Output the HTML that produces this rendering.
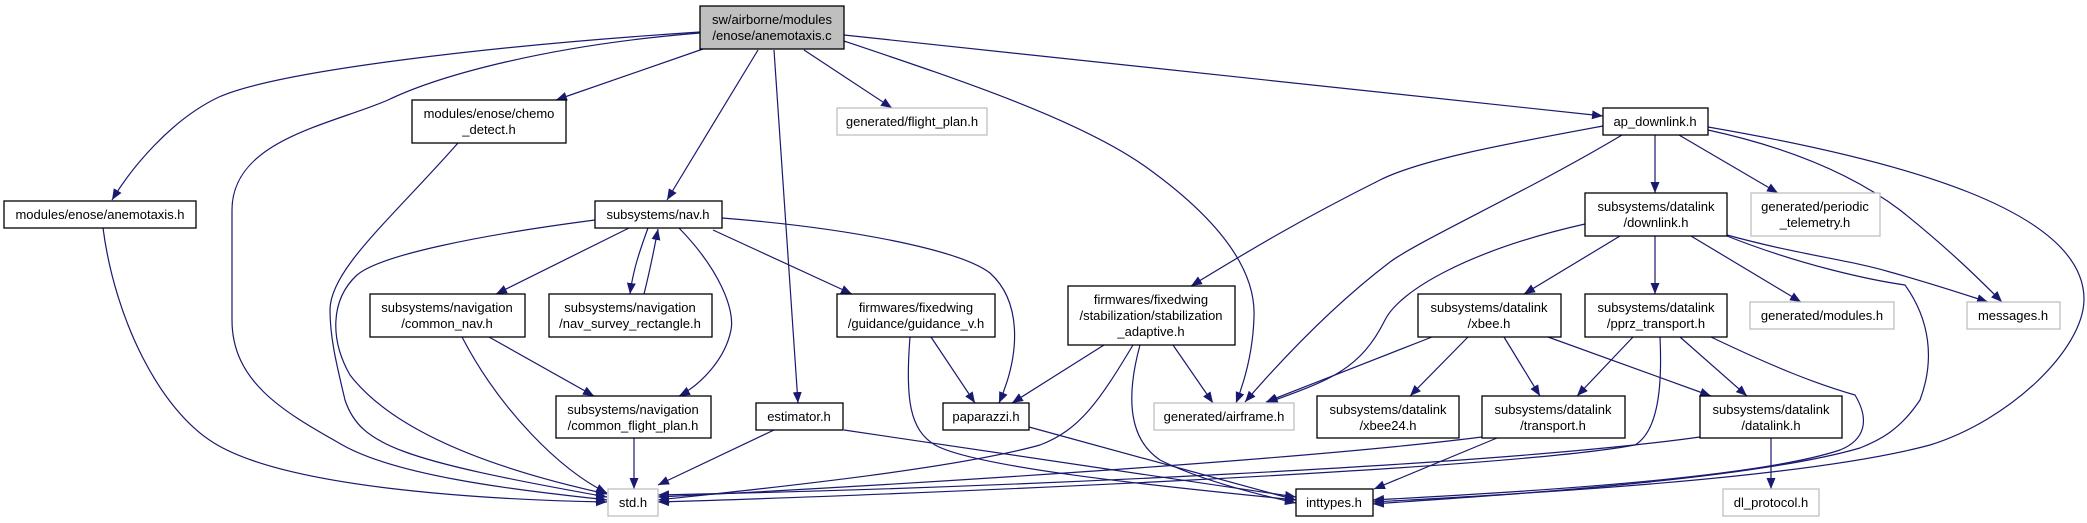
<!DOCTYPE html>
<html><head><meta charset="utf-8"><style>
html,body{margin:0;padding:0;background:#fff;}
svg{display:block;}
text{font-family:"Liberation Sans",sans-serif;font-size:13px;fill:#000;}
</style></head><body>
<svg width="2087" height="523" viewBox="0 0 2087 523" xmlns="http://www.w3.org/2000/svg">
<defs>
<marker id="a" markerWidth="12" markerHeight="9" refX="11" refY="4.5" orient="auto" markerUnits="userSpaceOnUse">
<path d="M0,0 L11,4.5 L0,9 z" fill="#191970"/>
</marker>
</defs>
<g fill="none" stroke="#191970" stroke-width="1.2" marker-end="url(#a)">
<path d="M700,32 C500,45 280,70 219,97 C170,120 130,170 112,200"/>
<path d="M700,33 C550,45 440,75 388,100 C330,125 232,140 232,210 L232,320 C232,380 280,410 339,443 C400,480 550,493 607,500"/>
<path d="M703,49 L556,100"/>
<path d="M758,50 L667,200"/>
<path d="M774,50 L798,403"/>
<path d="M804,50 L892,108"/>
<path d="M844,41 C960,80 1080,120 1146,167 C1220,220 1256,270 1254,317 C1253,350 1245,380 1236,403"/>
<path d="M844,35 L1603,116"/>
<path d="M458,143 C390,220 330,270 330,310 C330,340 338,370 345,400 C360,445 400,460 607,497"/>
<path d="M103,228 C115,320 160,410 214,443 C290,490 500,500 607,502"/>
<path d="M595,220 C480,235 380,255 357,275 C330,300 330,340 350,375 C400,440 520,475 607,494"/>
<path d="M629,228 L496,294"/>
<path d="M648,228 C640,250 633,270 630,294"/>
<path d="M644,294 C650,270 654,250 658,229"/>
<path d="M679,228 C720,270 735,310 731,330 C725,360 700,385 679,396"/>
<path d="M713,230 L852,294"/>
<path d="M722,218 C850,228 960,250 990,273 C1020,300 1022,350 999,403"/>
<path d="M462,337 C500,410 560,470 607,493"/>
<path d="M489,337 L594,396"/>
<path d="M634,438 L634,489"/>
<path d="M774,430 L658,485"/>
<path d="M844,430 L1296,497"/>
<path d="M931,337 L975,403"/>
<path d="M910,337 C905,400 910,430 935,445 C980,470 1200,490 1296,500"/>
<path d="M1104,345 L1012,403"/>
<path d="M1133,345 C1100,400 1080,430 1040,445 C950,470 750,490 658,500"/>
<path d="M1140,345 C1125,400 1130,440 1160,460 C1200,480 1260,495 1296,503"/>
<path d="M1173,345 L1213,403"/>
<path d="M1029,427 L1296,500"/>
<path d="M1603,126 C1500,145 1420,160 1380,180 C1300,220 1250,250 1191,286"/>
<path d="M1622,135 C1530,190 1420,240 1390,262 C1340,300 1290,350 1245,402"/>
<path d="M1655,135 L1655,193"/>
<path d="M1679,135 L1778,193"/>
<path d="M1708,130 C1800,150 1860,180 1900,210 C1950,250 1980,280 2002,302"/>
<path d="M1708,127 C1900,160 2085,210 2084,300 C2083,350 2010,420 1930,445 C1800,480 1500,495 1373,502"/>
<path d="M1585,224 C1470,250 1400,290 1385,320 C1360,370 1330,380 1267,403"/>
<path d="M1620,236 L1524,294"/>
<path d="M1655,236 L1655,294"/>
<path d="M1691,236 L1801,302"/>
<path d="M1727,235 C1800,255 1850,260 1890,272 C1930,283 1960,293 1988,302"/>
<path d="M1727,236 C1800,265 1870,280 1905,285 C1930,320 1935,360 1920,400 C1900,430 1880,440 1860,448 C1750,480 1500,495 1373,504"/>
<path d="M1432,337 L1266,402"/>
<path d="M1468,337 L1410,396"/>
<path d="M1504,337 L1540,396"/>
<path d="M1548,337 L1711,396"/>
<path d="M1633,337 L1577,396"/>
<path d="M1660,337 C1662,380 1660,430 1635,445 C1500,470 900,495 658,502"/>
<path d="M1680,337 L1747,396"/>
<path d="M1711,337 C1780,370 1820,385 1855,395 C1870,420 1865,440 1840,450 C1750,480 1500,493 1373,500"/>
<path d="M1482,437 C1300,460 900,485 658,497"/>
<path d="M1497,438 L1374,489"/>
<path d="M1700,437 C1500,465 1000,488 658,495"/>
<path d="M1771,438 L1771,489"/>
</g>
<g stroke-width="1.3">
<rect x="700" y="6" width="144" height="43" fill="#bfbfbf" stroke="#000"/>
<rect x="412" y="100" width="154" height="43" fill="#fff" stroke="#000"/>
<rect x="4" y="201" width="192" height="27" fill="#fff" stroke="#000"/>
<rect x="595" y="201" width="127" height="27" fill="#fff" stroke="#000"/>
<rect x="370" y="294" width="155" height="43" fill="#fff" stroke="#000"/>
<rect x="549" y="294" width="163" height="43" fill="#fff" stroke="#000"/>
<rect x="556" y="396" width="155" height="42" fill="#fff" stroke="#000"/>
<rect x="608" y="489" width="50" height="27" fill="#fff" stroke="#bfbfbf"/>
<rect x="837" y="108" width="150" height="27" fill="#fff" stroke="#bfbfbf"/>
<rect x="837" y="294" width="158" height="43" fill="#fff" stroke="#000"/>
<rect x="1068" y="286" width="167" height="59" fill="#fff" stroke="#000"/>
<rect x="756" y="403" width="87" height="27" fill="#fff" stroke="#000"/>
<rect x="943" y="403" width="86" height="27" fill="#fff" stroke="#000"/>
<rect x="1154" y="403" width="140" height="27" fill="#fff" stroke="#bfbfbf"/>
<rect x="1296" y="489" width="77" height="27" fill="#fff" stroke="#000"/>
<rect x="1317" y="396" width="142" height="42" fill="#fff" stroke="#000"/>
<rect x="1603" y="108" width="105" height="27" fill="#fff" stroke="#000"/>
<rect x="1585" y="193" width="142" height="43" fill="#fff" stroke="#000"/>
<rect x="1751" y="193" width="129" height="43" fill="#fff" stroke="#bfbfbf"/>
<rect x="1418" y="294" width="143" height="43" fill="#fff" stroke="#000"/>
<rect x="1585" y="294" width="142" height="43" fill="#fff" stroke="#000"/>
<rect x="1750" y="302" width="144" height="27" fill="#fff" stroke="#bfbfbf"/>
<rect x="1967" y="302" width="93" height="27" fill="#fff" stroke="#bfbfbf"/>
<rect x="1482" y="396" width="143" height="42" fill="#fff" stroke="#000"/>
<rect x="1700" y="396" width="142" height="42" fill="#fff" stroke="#000"/>
<rect x="1723" y="489" width="96" height="27" fill="#fff" stroke="#bfbfbf"/>
</g>
<g text-anchor="middle">
<text x="772" y="24">sw/airborne/modules</text><text x="772" y="40">/enose/anemotaxis.c</text>
<text x="489" y="118">modules/enose/chemo</text><text x="489" y="134">_detect.h</text>
<text x="100" y="219">modules/enose/anemotaxis.h</text>
<text x="658" y="219">subsystems/nav.h</text>
<text x="447" y="312">subsystems/navigation</text><text x="447" y="328">/common_nav.h</text>
<text x="630" y="312">subsystems/navigation</text><text x="630" y="328">/nav_survey_rectangle.h</text>
<text x="633" y="414">subsystems/navigation</text><text x="633" y="430">/common_flight_plan.h</text>
<text x="633" y="507">std.h</text>
<text x="912" y="126">generated/flight_plan.h</text>
<text x="916" y="312">firmwares/fixedwing</text><text x="916" y="328">/guidance/guidance_v.h</text>
<text x="1151" y="304">firmwares/fixedwing</text><text x="1151" y="320">/stabilization/stabilization</text><text x="1151" y="336">_adaptive.h</text>
<text x="799" y="421">estimator.h</text>
<text x="986" y="421">paparazzi.h</text>
<text x="1224" y="421">generated/airframe.h</text>
<text x="1334" y="507">inttypes.h</text>
<text x="1388" y="414">subsystems/datalink</text><text x="1388" y="430">/xbee24.h</text>
<text x="1655" y="126">ap_downlink.h</text>
<text x="1656" y="211">subsystems/datalink</text><text x="1656" y="227">/downlink.h</text>
<text x="1815" y="211">generated/periodic</text><text x="1815" y="227">_telemetry.h</text>
<text x="1489" y="312">subsystems/datalink</text><text x="1489" y="328">/xbee.h</text>
<text x="1656" y="312">subsystems/datalink</text><text x="1656" y="328">/pprz_transport.h</text>
<text x="1822" y="320">generated/modules.h</text>
<text x="2013" y="320">messages.h</text>
<text x="1553" y="414">subsystems/datalink</text><text x="1553" y="430">/transport.h</text>
<text x="1771" y="414">subsystems/datalink</text><text x="1771" y="430">/datalink.h</text>
<text x="1771" y="507">dl_protocol.h</text>
</g>
</svg>
</body></html>
